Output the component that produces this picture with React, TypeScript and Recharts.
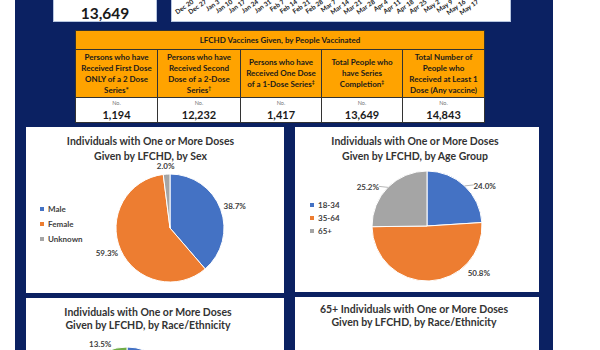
import React from 'react';
import { PieChart, Pie, Legend, BarChart, XAxis } from 'recharts';

// ---------- data ----------
const weekLabels = ['Dec 20', 'Dec 27', 'Jan 3', 'Jan 10', 'Jan 17', 'Jan 24', 'Jan 31', 'Feb 7', 'Feb 14', 'Feb 21', 'Feb 28', 'Mar 7', 'Mar 14', 'Mar 21', 'Mar 28', 'Apr 4', 'Apr 11', 'Apr 18', 'Apr 25', 'May 2', 'May 9', 'May 16', 'May 17'];

const seriesCompletionTotal = 13649;

const tableTitle = 'LFCHD Vaccines Given, by People Vaccinated';
const tableHeaders: string[][] = [
  ['Persons who have', 'Received First Dose', 'ONLY of a 2 Dose', 'Series*'],
  ['Persons who have', 'Received Second', 'Dose of a 2-Dose', 'Series\u2020'],
  ['Persons who have', 'Received One Dose', 'of a 1-Dose Series\u2021'],
  ['Total People who', 'have Series', 'Completion\u2021'],
  ['Total Number of', 'People who', 'Received at Least 1', 'Dose (Any vaccine)'],
];
const tableUnits = ['No.', 'No.', 'No.', 'No.', 'No.'];
const tableValues = [1194, 12232, 1417, 13649, 14843];

const sexTitle = ['Individuals with One or More Doses', 'Given by LFCHD, by Sex'];
const sexNames = ['Male', 'Female', 'Unknown'];
const sexValues = [38.7, 59.3, 2.0];

const ageTitle = ['Individuals with One or More Doses', 'Given by LFCHD, by Age Group'];
const ageNames = ['18-34', '35-64', '65+'];
const ageValues = [24.0, 50.8, 25.2];

const raceTitle = ['Individuals with One or More Doses', 'Given by LFCHD, by Race/Ethnicity'];
const raceNames = ['White', 'Black', 'Hispanic', 'Asian', 'Other', 'Unknown'];
const raceValues = [68.9, 9.2, 3.6, 2.1, 2.7, 13.5];

const race65Title = ['65+ Individuals with One or More Doses', 'Given by LFCHD, by Race/Ethnicity'];

// ---------- style ----------
const FONT = 'Lato, "Open Sans", "Liberation Sans", sans-serif';
const NAVY = '#0b2162';
const ORANGE = '#FFA300';
const TXT = '#404040';
const PALETTE = ['#4472C4', '#ED7D31', '#A5A5A5', '#FFC000', '#5B9BD5', '#70AD47'];
const RAD = Math.PI / 180;
const LEGEND_W = 60;

const build = (names: string[], values: number[]) =>
  names.map((n, i) => ({ name: n, value: values[i], fill: PALETTE[i % PALETTE.length] }));

const weekData = weekLabels.map((d) => ({ week: d }));

const fmt = (v: number) => v.toFixed(1) + '%';

const outsideEndLabel = (props: any) => {
  const { cx, cy, midAngle, outerRadius, value } = props;
  const c = Math.cos(midAngle * RAD);
  const s = Math.sin(midAngle * RAD);
  const x = cx + (outerRadius + 4) * c + 11 * c;
  const y = cy - (outerRadius + 4) * s - 4.5 * s;
  return (
    <text x={x} y={y} textAnchor="middle" dominantBaseline="central" fontFamily={FONT} fontSize={8} fontWeight={700} fill={TXT}>
      {fmt(Number(value))}
    </text>
  );
};

const bestFitLabel = (props: any) => {
  const { cx, cy, midAngle, outerRadius, value } = props;
  const c = Math.cos(midAngle * RAD);
  const s = Math.sin(midAngle * RAD);
  const ex = cx + outerRadius * c;
  const ey = cy - outerRadius * s;
  const side = c >= 0 ? 1 : -1;
  if (ey < cy) {
    const lx = ex + side * 20;
    return (
      <g>
        <line x1={ex} y1={ey} x2={ex + side * 9} y2={ey - 1} stroke="#a6a6a6" strokeWidth={0.8} />
        <text x={lx} y={ey} textAnchor="middle" dominantBaseline="central" fontFamily={FONT} fontSize={8} fontWeight={700} fill={TXT}>
          {fmt(Number(value))}
        </text>
      </g>
    );
  }
  const R = outerRadius + 15;
  const maxDy = 47;
  let dy = -R * s;
  let dx = R * c;
  if (dy > maxDy) {
    dy = maxDy;
    dx = side * Math.sqrt(R * R - dy * dy);
  }
  return (
    <text x={cx + dx} y={cy + dy} textAnchor="middle" dominantBaseline="central" fontFamily={FONT} fontSize={8} fontWeight={700} fill={TXT}>
      {fmt(Number(value))}
    </text>
  );
};

const makeLegend = (rowH: number, order: string[]) => (props: any) => {
  const payload = [...(props.payload || [])].sort(
    (a: any, b: any) => order.indexOf(String(a.value)) - order.indexOf(String(b.value)),
  );
  return (
    <div style={{ fontFamily: FONT, fontSize: 8, fontWeight: 700, color: TXT }}>
      {payload.map((p: any, i: number) => (
        <div key={i} style={{ display: 'flex', alignItems: 'center', height: rowH }}>
          <span style={{ display: 'inline-block', width: 4, height: 4, background: p.color, marginRight: 4 }} />
          <span>{p.value}</span>
        </div>
      ))}
    </div>
  );
};

const Title = ({ lines, cx, top, lh }: { lines: string[]; cx: number; top: number; lh: number }) => (
  <div
    style={{
      position: 'absolute',
      left: cx - 120,
      width: 240,
      top,
      textAlign: 'center',
      fontFamily: FONT,
      fontWeight: 700,
      fontSize: 10.5,
      lineHeight: lh + 'px',
      color: '#333',
      whiteSpace: 'nowrap',
    }}
  >
    {lines.map((l, i) => (
      <div key={i}>{l}</div>
    ))}
  </div>
);

const colW = [82, 83, 81, 81, 82];

const renderHeaderLine = (l: string) => {
  const last = l.slice(-1);
  if (last === '\u2020' || last === '\u2021') {
    return (
      <>
        {l.slice(0, -1)}
        <sup style={{ fontSize: 5, verticalAlign: 'top', lineHeight: '6px' }}>{last}</sup>
      </>
    );
  }
  return l;
};

export default function App() {
  return (
    <div style={{ position: 'absolute', left: 0, top: 0, width: 600, height: 350, overflow: 'hidden', background: '#fff', fontFamily: FONT }}>
      {/* navy background */}
      <div style={{ position: 'absolute', left: 15, top: 0, width: 538, height: 350, background: NAVY }} />

      {/* top-left count box */}
      <div
        style={{
          position: 'absolute', left: 53, top: -2, width: 104, height: 24, background: '#fff',
          border: '1px solid #b7c6e0', boxSizing: 'border-box', textAlign: 'center',
          fontFamily: FONT, fontWeight: 700, fontSize: 15.5, lineHeight: '28px', color: '#1a1a1a',
        }}
      >
        {seriesCompletionTotal.toLocaleString('en-US')}
      </div>

      {/* top-right date axis (chart cropped) */}
      <div
        style={{
          position: 'absolute', left: 171, top: -2, width: 340, height: 24, background: '#fff',
          border: '1px solid #b7c6e0', boxSizing: 'border-box', overflow: 'hidden',
        }}
      >
        <div style={{ position: 'absolute', left: 0, top: -30 }}>
          <BarChart width={338} height={70} data={weekData} margin={{ top: 0, right: 27, left: 13, bottom: 0 }}>
            <XAxis
              dataKey="week"
              interval={0}
              angle={-35}
              textAnchor="end"
              tickLine={false}
              axisLine={false}
              tickSize={0}
              tickMargin={0}
              height={40}
              tick={{ fontSize: 6.5, fontWeight: 700, fill: '#1a1a1a', fontFamily: FONT }}
            />
          </BarChart>
        </div>
      </div>

      {/* table */}
      <table
        style={{
          position: 'absolute', left: 75, top: 30, width: 409, borderCollapse: 'collapse',
          fontFamily: FONT, color: '#1a1a1a', tableLayout: 'fixed',
        }}
      >
        <colgroup>
          {colW.map((w, i) => (
            <col key={i} style={{ width: w }} />
          ))}
        </colgroup>
        <tbody>
          <tr style={{ height: 19 }}>
            <td colSpan={5} style={{ background: ORANGE, border: '1px solid #333', textAlign: 'center', fontSize: 8, fontWeight: 700, padding: 0 }}>
              {tableTitle}
            </td>
          </tr>
          <tr style={{ height: 48 }}>
            {tableHeaders.map((h, i) => (
              <td key={i} style={{ background: ORANGE, border: '1px solid #333', textAlign: 'center', verticalAlign: 'middle', fontSize: 8, fontWeight: 700, lineHeight: '11px', padding: 0, whiteSpace: 'nowrap' }}>
                {h.map((l, j) => (
                  <div key={j}>{renderHeaderLine(l)}</div>
                ))}
              </td>
            ))}
          </tr>
          <tr style={{ height: 25 }}>
            {tableValues.map((v, i) => (
              <td key={i} style={{ background: '#fff', border: '1px solid #333', textAlign: 'center', padding: 0, verticalAlign: 'top' }}>
                <div style={{ fontSize: 5.5, color: '#777', lineHeight: '9px', marginTop: 1 }}>{tableUnits[i]}</div>
                <div style={{ fontSize: 11, fontWeight: 700, lineHeight: '13px' }}>{v.toLocaleString('en-US')}</div>
              </td>
            ))}
          </tr>
        </tbody>
      </table>

      {/* panel: by sex */}
      <div style={{ position: 'absolute', left: 26, top: 127, width: 258, height: 166, background: '#fff' }}>
        <PieChart width={258} height={166} margin={{ top: 0, right: 0, bottom: 0, left: 0 }}>
          <Pie
            data={build(sexNames, sexValues)}
            dataKey="value"
            nameKey="name"
            cx={144 - LEGEND_W}
            cy={101}
            outerRadius={54}
            startAngle={90}
            endAngle={-270}
            stroke="#fff"
            strokeWidth={1}
            label={outsideEndLabel}
            labelLine={false}
            isAnimationActive={false}
          />
          <Legend layout="vertical" align="left" verticalAlign="top" content={makeLegend(15, sexNames)} wrapperStyle={{ left: 14, top: 74.5, width: LEGEND_W }} />
        </PieChart>
        <Title lines={sexTitle} cx={124.5} top={7} lh={15} />
      </div>

      {/* panel: by age */}
      <div style={{ position: 'absolute', left: 295, top: 127, width: 244, height: 165, background: '#fff' }}>
        <PieChart width={244} height={165} margin={{ top: 0, right: 0, bottom: 0, left: 0 }}>
          <Pie
            data={build(ageNames, ageValues)}
            dataKey="value"
            nameKey="name"
            cx={132 - LEGEND_W}
            cy={99}
            outerRadius={55}
            startAngle={90}
            endAngle={-270}
            stroke="#fff"
            strokeWidth={1}
            label={bestFitLabel}
            labelLine={false}
            isAnimationActive={false}
          />
          <Legend layout="vertical" align="left" verticalAlign="top" content={makeLegend(13, ageNames)} wrapperStyle={{ left: 15, top: 71.5, width: LEGEND_W }} />
        </PieChart>
        <Title lines={ageTitle} cx={120} top={7} lh={15} />
      </div>

      {/* panel: by race */}
      <div style={{ position: 'absolute', left: 26, top: 298, width: 258, height: 52, background: '#fff', overflow: 'hidden' }}>
        <PieChart width={258} height={170} margin={{ top: 0, right: 0, bottom: 0, left: 0 }}>
          <Pie
            data={build(raceNames, raceValues)}
            dataKey="value"
            nameKey="name"
            cx={101}
            cy={99}
            outerRadius={50}
            startAngle={90}
            endAngle={-270}
            stroke="#fff"
            strokeWidth={1}
            label={outsideEndLabel}
            labelLine={false}
            isAnimationActive={false}
          />
        </PieChart>
        <Title lines={raceTitle} cx={122} top={8} lh={13} />
      </div>

      {/* panel: 65+ by race */}
      <div style={{ position: 'absolute', left: 295, top: 297, width: 244, height: 53, background: '#fff', overflow: 'hidden' }}>
        <Title lines={race65Title} cx={119} top={6} lh={13} />
      </div>
    </div>
  );
}
